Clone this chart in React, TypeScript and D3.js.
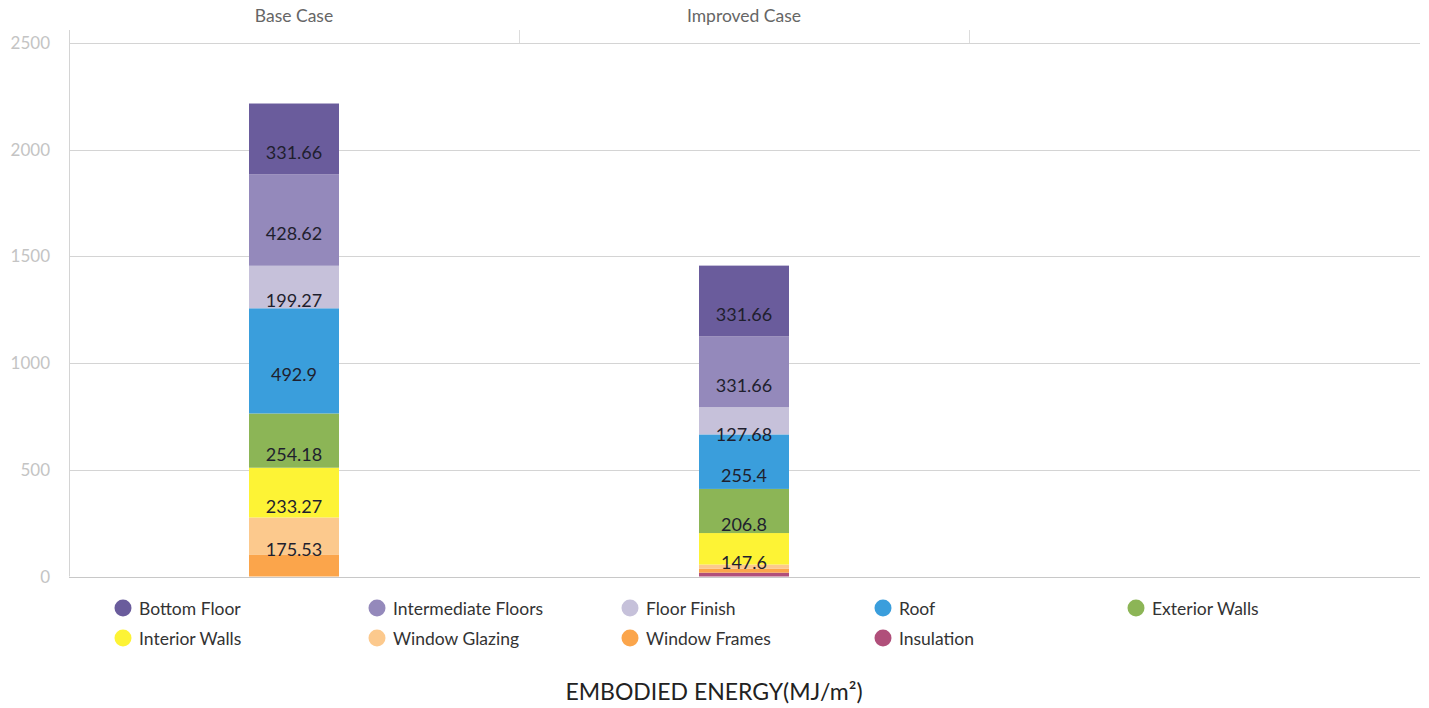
import React, { useEffect, useRef } from "react";
import * as d3 from "d3";

// Categories along the top axis (third slot is left empty)
const cases = ["Base Case", "Improved Case", ""];

// Stack order, bottom of the bar first
const stackOrder = [
  "Insulation",
  "Window Frames",
  "Window Glazing",
  "Interior Walls",
  "Exterior Walls",
  "Roof",
  "Floor Finish",
  "Intermediate Floors",
  "Bottom Floor",
];

// Embodied energy per component (MJ/m²)
const baseCase = {
  "Bottom Floor": 331.66,
  "Intermediate Floors": 428.62,
  "Floor Finish": 199.27,
  Roof: 492.9,
  "Exterior Walls": 254.18,
  "Interior Walls": 233.27,
  "Window Glazing": 175.53,
  "Window Frames": 101,
  Insulation: 0,
};

const improvedCase = {
  "Bottom Floor": 331.66,
  "Intermediate Floors": 331.66,
  "Floor Finish": 127.68,
  Roof: 255.4,
  "Exterior Walls": 206.8,
  "Interior Walls": 147.6,
  "Window Glazing": 20,
  "Window Frames": 18,
  Insulation: 18,
};

const yTicks = [0, 500, 1000, 1500, 2000, 2500];

// Legend order (row by row)
const legendOrder = [
  "Bottom Floor",
  "Intermediate Floors",
  "Floor Finish",
  "Roof",
  "Exterior Walls",
  "Interior Walls",
  "Window Glazing",
  "Window Frames",
  "Insulation",
];

const colors = {
  "Bottom Floor": "#6a5c9c",
  "Intermediate Floors": "#9489bb",
  "Floor Finish": "#c6c1da",
  Roof: "#3a9edc",
  "Exterior Walls": "#8cb556",
  "Interior Walls": "#fdf335",
  "Window Glazing": "#fcc98d",
  "Window Frames": "#fba54b",
  Insulation: "#b04f7a",
};

const axisTitle = "EMBODIED ENERGY(MJ/m²)";

export default function App() {
  const ref = useRef<SVGSVGElement | null>(null);

  useEffect(() => {
    const W = 1429;
    const H = 708;
    const left = 69;
    const right = 1420;
    const top = 43;
    const bottom = 576.5;
    const font = "Lato, 'Open Sans', sans-serif";

    const svg = d3.select(ref.current);
    svg.selectAll("*").remove();
    svg.attr("width", W).attr("height", H);

    const x = d3.scaleBand<string>().domain(cases).range([left, 1419]).padding(0);
    const y = d3.scaleLinear().domain([0, 2500]).range([bottom, top]);

    // grid lines
    svg
      .append("g")
      .selectAll("line")
      .data(yTicks)
      .join("line")
      .attr("x1", left)
      .attr("x2", right)
      .attr("y1", (d) => Math.round(y(d)) + 0.5)
      .attr("y2", (d) => Math.round(y(d)) + 0.5)
      .attr("stroke", (d) => (d === 0 ? "#c8c8c8" : "#d4d4d4"))
      .attr("stroke-width", 1);

    // left axis line
    svg
      .append("line")
      .attr("x1", left + 0.5)
      .attr("x2", left + 0.5)
      .attr("y1", 30)
      .attr("y2", bottom)
      .attr("stroke", "#d4d4d4");

    // top category separators
    svg
      .append("g")
      .selectAll("line")
      .data(cases.slice(1))
      .join("line")
      .attr("x1", (d) => (x(d) as number) + 0.5)
      .attr("x2", (d) => (x(d) as number) + 0.5)
      .attr("y1", 30)
      .attr("y2", top)
      .attr("stroke", "#dcdcdc");

    // y tick labels
    svg
      .append("g")
      .selectAll("text")
      .data(yTicks)
      .join("text")
      .attr("x", 50)
      .attr("y", (d) => y(d) + 6)
      .attr("text-anchor", "end")
      .attr("fill", "#c4c4c4")
      .attr("font-family", font)
      .attr("font-size", 17)
      .text((d) => String(d));

    // category labels
    svg
      .append("g")
      .selectAll("text")
      .data(cases)
      .join("text")
      .attr("x", (d) => (x(d) as number) + x.bandwidth() / 2)
      .attr("y", 22)
      .attr("text-anchor", "middle")
      .attr("fill", "#666")
      .attr("font-family", font)
      .attr("font-size", 17.5)
      .text((d) => d);

    // stacked bars
    const rows = [
      { case: cases[0], ...baseCase },
      { case: cases[1], ...improvedCase },
    ];
    const stack = d3.stack<any>().keys(stackOrder);
    const series = stack(rows);
    const barW = x.bandwidth() * 0.2;

    const g = svg.append("g");
    series.forEach((s) => {
      const key = s.key;
      s.forEach((seg) => {
        const cx = (x(seg.data.case) as number) + x.bandwidth() / 2;
        const y0 = y(seg[0]);
        const y1 = y(seg[1]);
        const h = y0 - y1;
        if (h <= 0) return;
        g.append("rect")
          .attr("x", cx - barW / 2)
          .attr("y", y1)
          .attr("width", barW)
          .attr("height", h)
          .attr("fill", (colors as any)[key]);
      });
    });

    // value labels
    series.forEach((s) => {
      s.forEach((seg) => {
        const cx = (x(seg.data.case) as number) + x.bandwidth() / 2;
        const y0 = y(seg[0]);
        const y1 = y(seg[1]);
        const h = y0 - y1;
        if (h < 24) return;
        const v = seg[1] - seg[0];
        g.append("text")
          .attr("x", cx)
          .attr("y", (y0 + y1) / 2 + 20)
          .attr("text-anchor", "middle")
          .attr("fill", "#1f1f2e")
          .attr("font-family", font)
          .attr("font-size", 18)
          .text(String(+v.toFixed(2)));
      });
    });

    // legend
    const colX = [123, 377, 630, 883, 1136];
    const rowY = [608, 638];
    const lg = svg.append("g");
    legendOrder.forEach((name, i) => {
      const cx = colX[i % 5];
      const cy = rowY[Math.floor(i / 5)];
      lg.append("circle")
        .attr("cx", cx)
        .attr("cy", cy)
        .attr("r", 8.5)
        .attr("fill", (colors as any)[name]);
      lg.append("text")
        .attr("x", cx + 16)
        .attr("y", cy + 6.5)
        .attr("fill", "#333")
        .attr("font-family", font)
        .attr("font-size", 17.5)
        .text(name);
    });

    // axis title
    svg
      .append("text")
      .attr("x", 714)
      .attr("y", 700)
      .attr("text-anchor", "middle")
      .attr("fill", "#222")
      .attr("font-family", font)
      .attr("font-size", 23)
      .text(axisTitle);
  }, []);

  return (
    <svg
      ref={ref}
      style={{ position: "absolute", left: 0, top: 0, background: "#fff" }}
    />
  );
}
